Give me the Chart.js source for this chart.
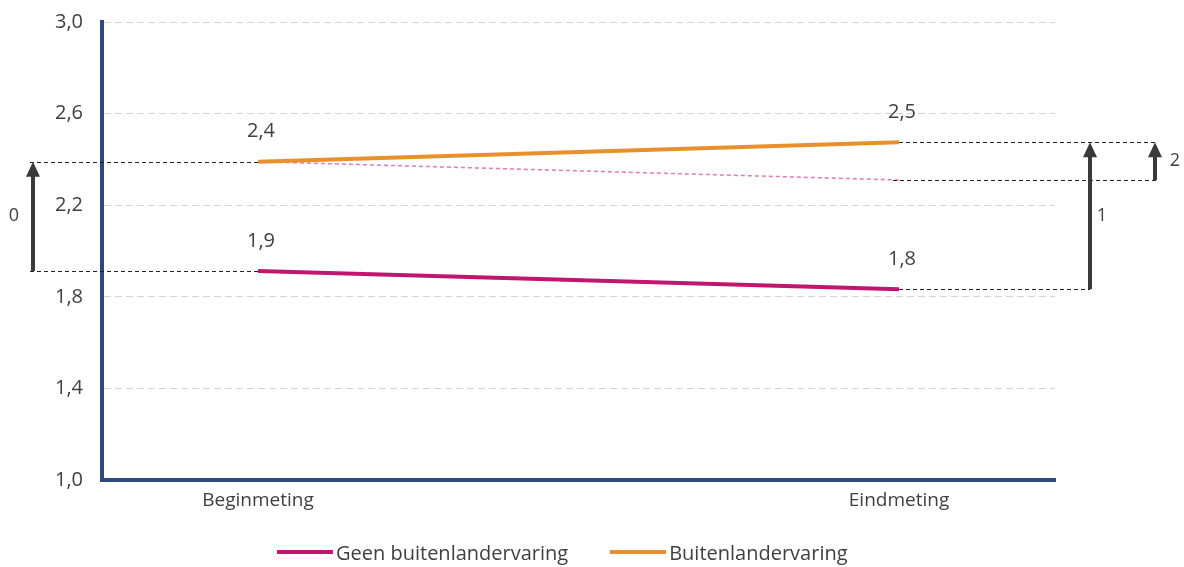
<!DOCTYPE html>
<html>
<head>
<meta charset="utf-8">
<script src="https://cdn.jsdelivr.net/npm/chart.js@4.4.1/dist/chart.umd.min.js"></script>
<style>
  body { margin: 0; background: #fff; }
  #wrap { position: relative; width: 1184px; height: 567px; }
  .legend { position: absolute; top: 538px; left: 277px; display: flex; align-items: center; height: 28px;
            font: 20px 'Open Sans', sans-serif; color: #404040; white-space: nowrap; }
  .legend .item { display: flex; align-items: center; margin-right: 42px; }
  .legend .sw { display: inline-block; width: 56px; height: 4px; margin-right: 3px; }
</style>
</head>
<body>
<div id="wrap">
  <canvas id="chart" width="1184" height="567"></canvas>
  <div class="legend" id="legend"></div>
</div>
<script>
const categories = ['Beginmeting', 'Eindmeting'];
const geenValues = [1.913, 1.833];
const buitenValues = [2.39, 2.475];
const verwachtValues = [2.39, 2.31]; // buitenlanders met dezelfde ontwikkeling als de geen-groep
const yTicks = [1.0, 1.4, 1.8, 2.2, 2.6, 3.0];
const arrowLabels = ['0', '1', '2'];

const PINK = '#C0166F', ORANGE = '#E8912C', AXIS = '#2F4A7A', INK = '#404040', ARROW = '#3a3a3a';
const FONT = "'Open Sans', sans-serif";
const fmt = v => v.toFixed(1).replace('.', ',');
const pts = vals => vals.map((v, i) => ({ x: i, y: v }));

// waardelabels, stippellijnen en pijlen rond de lijnen
const annotaties = {
  id: 'annotaties',
  afterDatasetsDraw(chart) {
    const { ctx, chartArea: area, scales: { x, y } } = chart;
    const xb = x.getPixelForValue(0), xe = x.getPixelForValue(1);
    const gB = y.getPixelForValue(geenValues[0]), gE = y.getPixelForValue(geenValues[1]);
    const bB = y.getPixelForValue(buitenValues[0]), bE = y.getPixelForValue(buitenValues[1]);
    const vE = y.getPixelForValue(verwachtValues[1]);

    function dashed(x1, x2, yy) {
      ctx.save();
      ctx.strokeStyle = '#222';
      ctx.lineWidth = 1;
      ctx.setLineDash([4, 3]);
      ctx.beginPath();
      ctx.moveTo(x1, Math.round(yy) + 0.5);
      ctx.lineTo(x2, Math.round(yy) + 0.5);
      ctx.stroke();
      ctx.restore();
    }

    function arrow(ax, yFrom, yTo, label, lx) {
      ctx.save();
      ctx.strokeStyle = ARROW;
      ctx.fillStyle = ARROW;
      ctx.lineWidth = 4;
      ctx.beginPath();
      ctx.moveTo(ax, yFrom);
      ctx.lineTo(ax, yTo + 12);
      ctx.stroke();
      ctx.beginPath();
      ctx.moveTo(ax, yTo);
      ctx.lineTo(ax - 7, yTo + 15);
      ctx.lineTo(ax + 7, yTo + 15);
      ctx.closePath();
      ctx.fill();
      ctx.fillStyle = INK;
      ctx.font = '18px ' + FONT;
      ctx.textAlign = 'center';
      ctx.textBaseline = 'middle';
      ctx.fillText(label, lx, (yFrom + yTo) / 2);
      ctx.restore();
    }

    const a0 = area.left - 69, a1 = area.right + 35, a2 = area.right + 100;
    dashed(a0 - 3, xb, bB);
    dashed(a0 - 3, xb, gB);
    dashed(xe, a2 + 2, bE);
    dashed(xe - 6, a2 + 2, vE);
    dashed(xe, a1, gE);

    arrow(a0, gB, bB, arrowLabels[0], a0 - 19);
    arrow(a1, gE, bE, arrowLabels[1], a1 + 12);
    arrow(a2, vE, bE, arrowLabels[2], a2 + 20);

    ctx.save();
    ctx.fillStyle = INK;
    ctx.font = '20px ' + FONT;
    ctx.textAlign = 'center';
    ctx.textBaseline = 'middle';
    [0, 1].forEach(di => {
      chart.getDatasetMeta(di).data.forEach((pt, i) => {
        ctx.fillText(fmt(chart.data.datasets[di].data[i].y), pt.x + 3, pt.y - 30);
      });
    });
    ctx.restore();
  }
};

const chart = new Chart(document.getElementById('chart'), {
  type: 'line',
  data: {
    datasets: [
      { label: 'Geen buitenlandervaring', data: pts(geenValues), borderColor: PINK, borderWidth: 4, pointRadius: 0 },
      { label: 'Buitenlandervaring', data: pts(buitenValues), borderColor: ORANGE, borderWidth: 4, pointRadius: 0 },
      { label: 'verwacht', data: pts(verwachtValues), borderColor: '#E27AB5', borderWidth: 1.5, borderDash: [4, 3], pointRadius: 0 }
    ]
  },
  options: {
    responsive: false,
    animation: false,
    layout: { padding: { top: 22, right: 129, bottom: 0, left: 0 } },
    plugins: { legend: { display: false }, tooltip: { enabled: false } },
    scales: {
      x: {
        type: 'linear', min: -0.2434, max: 1.2434,
        afterBuildTicks: s => { s.ticks = categories.map((_, i) => ({ value: i })); },
        ticks: { callback: v => categories[v], font: { size: 19, family: FONT }, color: INK, padding: 9 },
        grid: { display: false, drawTicks: false },
        border: { color: AXIS, width: 4 },
        afterFit: s => { s.height = 87; }
      },
      y: {
        min: 1, max: 3,
        afterBuildTicks: s => { s.ticks = yTicks.map(v => ({ value: v })); },
        ticks: { callback: v => fmt(v), font: { size: 20, family: FONT }, color: INK, padding: 19 },
        grid: { color: '#d4d4d4', drawTicks: false, lineWidth: 1 },
        border: { color: AXIS, width: 4, dash: [7, 4] },
        afterFit: s => { s.width = 102; s.paddingTop = 12; s.paddingBottom = 12; }
      }
    }
  },
  plugins: [annotaties]
});

document.getElementById('legend').innerHTML = chart.data.datasets.slice(0, 2).map(ds =>
  `<div class="item"><span class="sw" style="background:${ds.borderColor}"></span>${ds.label}</div>`
).join('');
</script>
</body>
</html>
